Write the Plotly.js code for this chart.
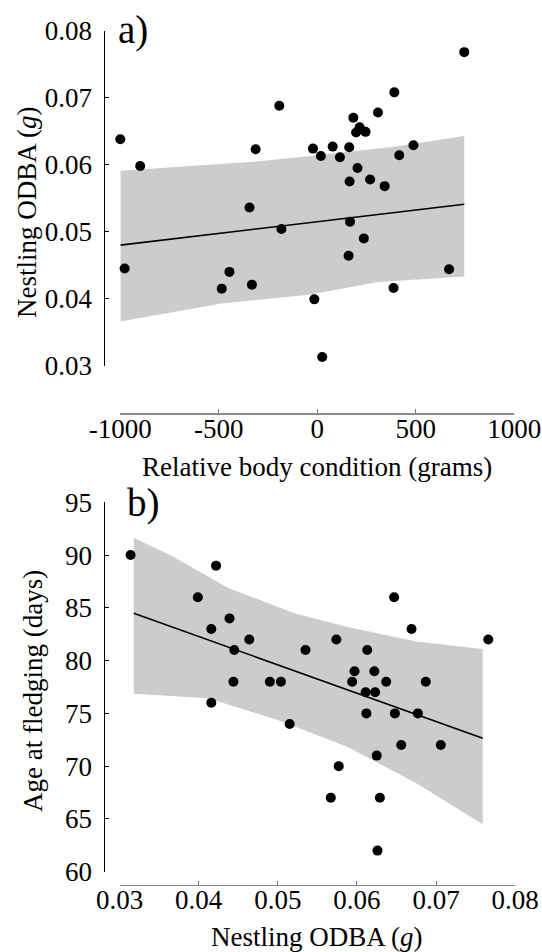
<!DOCTYPE html>
<html><head><meta charset="utf-8">
<script src="https://cdn.plot.ly/plotly-3.0.1.min.js"></script>
<style>html,body{margin:0;padding:0;background:#fff}#chart{width:542px;height:952px}</style>
</head><body><div id="chart"></div>
<script>
// ---------- Panel a: Relative body condition vs Nestling ODBA ----------
const conditionA = [-1000,-899,-313,-193,-22,18,78,115,162,183,197,215,245,204,164,268,308,342,391,416,488,746,
  -344,-182,166,236,159,-978,-446,-485,-332,-15,387,669,25];
const odbaA = [0.0638,0.0598,0.0623,0.0688,0.0624,0.0613,0.0627,0.0611,0.0626,0.0670,0.0648,0.0656,0.0649,0.0595,0.0575,0.0578,0.0678,0.0568,0.0708,0.0614,0.0629,0.0768,
  0.0536,0.0504,0.0515,0.0490,0.0464,0.0445,0.0440,0.0415,0.0421,0.0399,0.0416,0.0444,0.0313];
const fitAX = [-1000, 746];
const fitAY = [0.0480, 0.0541];
const bandAUpperX = [-1000, -341, -36, 400, 746];
const bandAUpperY = [0.0591, 0.0604, 0.0613, 0.0627, 0.0643];
const bandALowerX = [-1000, -485, -43, 310, 746];
const bandALowerY = [0.0366, 0.0393, 0.0406, 0.0425, 0.0433];
const ticksAX = [-1000, -500, 0, 500, 1000];
const tickTextAX = ['-1000', '-500', '0', '500', '1000'];
const ticksAY = [0.03, 0.04, 0.05, 0.06, 0.07, 0.08];
const tickTextAY = ['0.03', '0.04', '0.05', '0.06', '0.07', '0.08'];
const titleAX = 'Relative body condition (grams)';
const titleAY = 'Nestling ODBA (<i>g</i>)';

// ---------- Panel b: Nestling ODBA vs Age at fledging ----------
const odbaB = [0.0314,0.0422,0.0399,0.0439,0.0416,0.0464,0.0445,0.0535,0.0574,0.0613,0.0647,0.0669,0.0766,
  0.0597,0.0622,0.0444,0.0490,0.0504,0.0594,0.0637,0.0687,0.0611,0.0623,0.0416,0.0612,0.0648,0.0677,0.0515,
  0.0656,0.0706,0.0625,0.0577,0.0567,0.0629,0.0626];
const ageB = [90,89,86,84,83,82,81,81,82,81,86,83,82,
  79,79,78,78,78,78,78,78,77,77,76,75,75,75,74,
  72,72,71,70,67,67,62];
const fitBX = [0.0318, 0.0759];
const fitBY = [84.49, 72.65];
const bandBUpperX = [0.0318, 0.0368, 0.0438, 0.0521, 0.0587, 0.0675, 0.0759];
const bandBUpperY = [91.65, 89.85, 86.86, 84.49, 83.22, 81.80, 81.11];
const bandBLowerX = [0.0318, 0.0412, 0.0499, 0.0587, 0.0675, 0.0759];
const bandBLowerY = [76.85, 76.44, 74.39, 71.86, 68.39, 64.5];
const ticksBX = [0.03, 0.04, 0.05, 0.06, 0.07, 0.08];
const tickTextBX = ['0.03', '0.04', '0.05', '0.06', '0.07', '0.08'];
const ticksBY = [60, 65, 70, 75, 80, 85, 90, 95];
const tickTextBY = ['60', '65', '70', '75', '80', '85', '90', '95'];
const titleBX = 'Nestling ODBA (<i>g</i>)';
const titleBY = 'Age at fledging (days)';

// ---------- drawing ----------
const W = 542, H = 952;
const FONT = 'Liberation Serif';
const BAND = '#cccccc';

function poly(ux, uy, lx, ly) {
  return {x: ux.concat(lx.slice().reverse()), y: uy.concat(ly.slice().reverse())};
}
const pa = poly(bandAUpperX, bandAUpperY, bandALowerX, bandALowerY);
const pb = poly(bandBUpperX, bandBUpperY, bandBLowerX, bandBLowerY);

const traces = [
  {x: pa.x, y: pa.y, xaxis: 'x', yaxis: 'y', mode: 'lines', fill: 'toself', fillcolor: BAND, line: {width: 0, color: BAND}, hoverinfo: 'skip'},
  {x: fitAX, y: fitAY, xaxis: 'x', yaxis: 'y', mode: 'lines', line: {color: '#000', width: 1.6}},
  {x: conditionA, y: odbaA, xaxis: 'x', yaxis: 'y', mode: 'markers', marker: {color: '#000', size: 10}, cliponaxis: false},
  {x: pb.x, y: pb.y, xaxis: 'x2', yaxis: 'y2', mode: 'lines', fill: 'toself', fillcolor: BAND, line: {width: 0, color: BAND}, hoverinfo: 'skip'},
  {x: fitBX, y: fitBY, xaxis: 'x2', yaxis: 'y2', mode: 'lines', line: {color: '#000', width: 1.6}},
  {x: odbaB, y: ageB, xaxis: 'x2', yaxis: 'y2', mode: 'markers', marker: {color: '#000', size: 10}, cliponaxis: false}
];

function xAxis(domain, range, pos, tv, tt) {
  return {
    domain: domain, range: range, anchor: 'free', position: pos, side: 'bottom',
    showgrid: false, zeroline: false, showline: true, linecolor: '#888888', linewidth: 1.5,
    ticks: 'inside', ticklen: 4, tickwidth: 1, tickcolor: '#777777',
    tickmode: 'array', tickvals: tv, ticktext: tt, ticklabelstandoff: -9,
    tickfont: {family: FONT, size: 27, color: '#000'}
  };
}
function yAxis(domain, range, pos, tv, tt) {
  return {
    domain: domain, range: range, anchor: 'free', position: pos, side: 'left',
    showgrid: false, zeroline: false, showline: true, linecolor: '#000', linewidth: 1,
    ticks: 'inside', ticklen: 4, tickwidth: 1, tickcolor: '#000',
    tickmode: 'array', tickvals: tv, ticktext: tt, ticklabelstandoff: 6,
    tickfont: {family: FONT, size: 27, color: '#000'}
  };
}
function label(text, x, y, size, angle, xanchor) {
  return {text: text, xref: 'paper', yref: 'paper', x: x / W, y: 1 - y / H,
    xanchor: xanchor, yanchor: 'middle', textangle: angle, showarrow: false,
    font: {family: FONT, size: size, color: '#000'}};
}

const layout = {
  width: W, height: H,
  margin: {l: 0, r: 0, t: 0, b: 0},
  paper_bgcolor: '#ffffff', plot_bgcolor: 'rgba(0,0,0,0)',
  showlegend: false,
  font: {family: FONT, color: '#000'},
  xaxis: xAxis([120.3 / W, 514.3 / W], [-1000, 1000], 1 - 413 / H, ticksAX, tickTextAX),
  yaxis: yAxis([1 - 365.7 / H, 1 - 30.7 / H], [0.03, 0.08], 103.5 / W, ticksAY, tickTextAY),
  xaxis2: xAxis([119.5 / W, 515.2 / W], [0.03, 0.08], 1 - 884.5 / H, ticksBX, tickTextBX),
  yaxis2: yAxis([1 - 871.7 / H, 1 - 502.3 / H], [60, 95], 103.5 / W, ticksBY, tickTextBY),
  annotations: [
    label(titleAX, 317.3, 466.5, 27, 0, 'center'),
    label(titleAY, 27, 212, 27, -90, 'center'),
    label(titleBX, 317.3, 936.5, 27, 0, 'center'),
    label(titleBY, 33, 691, 27, -90, 'center'),
    label('a)', 116, 30, 39, 0, 'left'),
    label('b)', 125, 503, 39, 0, 'left')
  ]
};

Plotly.newPlot('chart', traces, layout, {displayModeBar: false, staticPlot: true});
</script>
</body></html>
